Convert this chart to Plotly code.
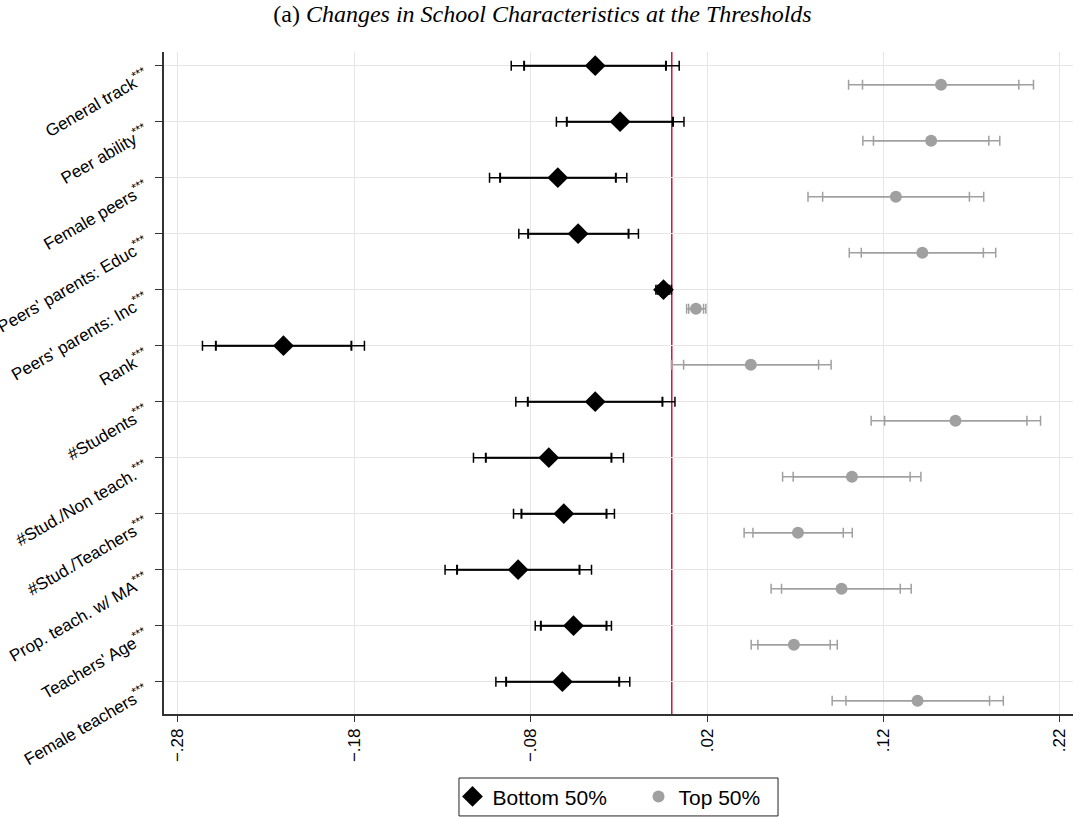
import plotly.graph_objects as go

# Outcome variables (top to bottom)
labels = [
    "General track", "Peer ability", "Female peers", "Peers' parents: Educ",
    "Peers' parents: Inc", "Rank", "#Students", "#Stud./Non teach.",
    "#Stud./Teachers", "Prop. teach. w/ MA", "Teachers' Age", "Female teachers",
]
stars = ["***"] * len(labels)

# Bottom 50%: point estimates, 90% and 95% confidence bounds
bot_b = [-0.0434, -0.0293, -0.0646, -0.0531, -0.0047, -0.2201,
         -0.0434, -0.0697, -0.0612, -0.0871, -0.0557, -0.0620]
bot_lo90 = [-0.0837, -0.0595, -0.0973, -0.0814, -0.0080, -0.2584,
            -0.0816, -0.1054, -0.0852, -0.1217, -0.0742, -0.0939]
bot_hi90 = [-0.0033, 0.0007, -0.0317, -0.0245, -0.0014, -0.1816,
            -0.0053, -0.0342, -0.0370, -0.0523, -0.0370, -0.0298]
bot_lo95 = [-0.0910, -0.0654, -0.1033, -0.0867, -0.0090, -0.2660,
            -0.0884, -0.1124, -0.0897, -0.1285, -0.0774, -0.0997]
bot_hi95 = [0.0042, 0.0069, -0.0255, -0.0189, -0.0002, -0.1742,
            0.0018, -0.0274, -0.0325, -0.0455, -0.0342, -0.0238]

# Top 50%: point estimates, 90% and 95% confidence bounds
top_b = [0.1526, 0.1470, 0.1270, 0.1420, 0.0137, 0.0448,
         0.1608, 0.1021, 0.0715, 0.0962, 0.0692, 0.1393]
top_lo90 = [0.1081, 0.1143, 0.0855, 0.1074, 0.0096, 0.0067,
            0.1206, 0.0688, 0.0460, 0.0622, 0.0488, 0.0987]
top_hi90 = [0.1967, 0.1797, 0.1687, 0.1766, 0.0180, 0.0832,
            0.2013, 0.1351, 0.0972, 0.1295, 0.0898, 0.1801]
top_lo95 = [0.1002, 0.1083, 0.0772, 0.1006, 0.0084, -0.0002,
            0.1130, 0.0628, 0.0410, 0.0563, 0.0450, 0.0909]
top_hi95 = [0.2050, 0.1859, 0.1768, 0.1836, 0.0193, 0.0903,
            0.2090, 0.1412, 0.1023, 0.1357, 0.0938, 0.1879]

x_ticks = [-0.28, -0.18, -0.08, 0.02, 0.12, 0.22]
x_ticktext = ["\u2212.28", "\u2212.18", "\u2212.08", ".02", ".12", ".22"]

BLACK = "#000000"
GRAY = "#a0a0a0"
RED = "#c8143c"
FONT = "Liberation Sans, Arial, sans-serif"

n = len(labels)
pos = list(range(n))
offset = 0.34
pos_top = [p + offset for p in pos]


def ci_trace(b, lo, hi, y, color, thick, name, marker, legend):
    return go.Scatter(
        x=b, y=y, mode="markers", name=name, showlegend=legend,
        marker=marker,
        error_x=dict(
            type="data", symmetric=False,
            array=[h - v for h, v in zip(hi, b)],
            arrayminus=[v - l for v, l in zip(b, lo)],
            color=color, thickness=thick, width=5,
        ),
        hoverinfo="skip",
    )


fig = go.Figure()
invisible = dict(size=1, opacity=0)

# 95% intervals
fig.add_trace(ci_trace(bot_b, bot_lo95, bot_hi95, pos, BLACK, 1.5,
                       "Bottom 50% (95%)", invisible, False))
fig.add_trace(ci_trace(top_b, top_lo95, top_hi95, pos_top, GRAY, 1.5,
                       "Top 50% (95%)", invisible, False))
# 90% intervals with point estimates
fig.add_trace(ci_trace(bot_b, bot_lo90, bot_hi90, pos, BLACK, 2,
                       "Bottom 50%", dict(symbol="diamond", size=16, color=BLACK), True))
fig.add_trace(ci_trace(top_b, top_lo90, top_hi90, pos_top, GRAY, 1.5,
                       "Top 50%", dict(symbol="circle", size=12, color=GRAY), True))

# zero reference line
fig.add_shape(type="line", xref="x", yref="paper", x0=0, x1=0, y0=0, y1=1,
              line=dict(color=RED, width=1.5), layer="below")

# legend frame
fig.add_shape(type="rect", xref="paper", yref="paper",
              x0=0.3245, x1=0.6755, y0=-0.154, y1=-0.0967,
              line=dict(color="#222222", width=1), fillcolor="rgba(0,0,0,0)")

fig.update_layout(
    width=1085, height=817,
    margin=dict(l=164, r=12, t=52, b=103, autoexpand=False),
    paper_bgcolor="white", plot_bgcolor="white",
    font=dict(family=FONT, size=17, color="black"),
    title=dict(
        text="(a) <i>Changes in School Characteristics at the Thresholds</i>",
        font=dict(family="Liberation Serif, Times New Roman, serif", size=24, color="black"),
        x=0.5, xref="container", xanchor="center",
        y=1 - 14 / 817, yref="container", yanchor="middle",
    ),
    legend=dict(
        orientation="h", x=0.522, xanchor="center", y=-0.125, yanchor="middle",
        borderwidth=0, font=dict(size=21),
        entrywidth=141, entrywidthmode="pixels",
        itemsizing="trace", bgcolor="rgba(0,0,0,0)",
    ),
    xaxis=dict(
        range=[-0.2878, 0.2274], tickvals=x_ticks, ticktext=x_ticktext,
        tickangle=-90, ticks="outside", ticklen=6, tickcolor="#333333",
        showgrid=True, gridcolor="#e6e6e6", gridwidth=1, zeroline=False,
        showline=True, linecolor="#333333", linewidth=1.5,
        tickfont=dict(size=17), automargin=False,
    ),
    yaxis=dict(
        range=[n - 1 + 0.577, -0.245],
        tickvals=pos, ticktext=[f"{l}<sup>{s}</sup>" for l, s in zip(labels, stars)],
        tickangle=-30, ticks="outside", ticklen=7, tickcolor="#333333",
        showgrid=True, gridcolor="#e6e6e6", gridwidth=1, zeroline=False,
        showline=True, linecolor="#333333", linewidth=1.5,
        tickfont=dict(size=17), automargin=False,
        ticklabelstandoff=6, ticklabelshift=-9,
    ),
)

fig.write_html("out.html")
